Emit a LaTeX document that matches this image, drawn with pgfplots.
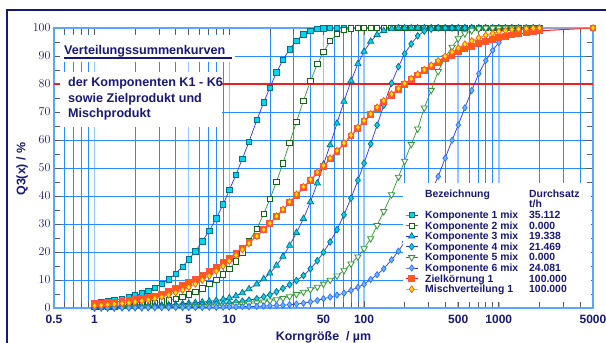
\documentclass[border=0pt]{standalone}
\usepackage{pgfplots}
\pgfplotsset{compat=1.18}
\usepackage{pgfplotstable}
\usepackage{fontspec}
\setmainfont{Liberation Sans}
\definecolor{navy}{RGB}{24,24,120}
\definecolor{gridblue}{RGB}{40,140,255}
\definecolor{gridlight}{RGB}{145,200,255}
\definecolor{axblue}{RGB}{90,165,255}
\definecolor{cyanfill}{RGB}{0,215,235}
\definecolor{tealedge}{RGB}{0,110,140}
\definecolor{lineblue}{RGB}{50,50,230}
\definecolor{darkgreen}{RGB}{20,100,20}
\definecolor{linegreen}{RGB}{50,150,50}
\definecolor{k6fill}{RGB}{110,185,255}
\definecolor{k6edge}{RGB}{40,110,255}
\definecolor{zfill}{RGB}{255,95,0}
\definecolor{zedge}{RGB}{255,80,80}
\definecolor{zline}{RGB}{255,30,20}
\definecolor{mfill}{RGB}{255,235,0}
\definecolor{medge}{RGB}{255,90,20}
\definecolor{mline}{RGB}{255,140,130}
\definecolor{tickgray}{RGB}{90,90,90}
\definecolor{redline}{RGB}{240,30,30}

\pgfplotstableread{
d K1 K2 K3 K4 K5 K6 Z M
1 1.7 0.3 0.3 0.2 0.1 0.1 1.5 0.8
1.12 2.1 0.4 0.3 0.2 0.1 0.1 1.7 1.0
1.25 2.5 0.5 0.4 0.2 0.1 0.1 1.9 1.2
1.4 2.9 0.6 0.4 0.3 0.1 0.1 2.1 1.4
1.6 3.3 0.7 0.5 0.3 0.2 0.1 2.4 1.6
1.8 3.9 0.9 0.5 0.3 0.2 0.1 2.7 1.9
2 4.5 1.1 0.6 0.4 0.2 0.1 3.0 2.2
2.24 5.2 1.3 0.7 0.4 0.2 0.1 3.3 2.5
2.5 6.2 1.6 0.8 0.5 0.3 0.1 3.7 2.9
2.8 7.3 1.9 0.9 0.5 0.3 0.2 4.3 3.4
3.15 8.7 2.3 1.0 0.6 0.3 0.2 5.0 4.0
3.55 10.3 2.7 1.1 0.7 0.3 0.2 5.9 4.7
4 12.3 3.2 1.3 0.8 0.4 0.2 6.9 5.5
4.5 14.8 3.9 1.5 0.9 0.4 0.2 7.9 6.4
5 17.4 4.8 1.7 1.0 0.5 0.2 9.0 7.4
5.6 20.2 5.8 1.9 1.1 0.5 0.2 10.2 8.6
6.3 23.8 7.0 2.1 1.2 0.6 0.2 11.6 10.0
7.1 27.6 8.5 2.4 1.3 0.7 0.3 13.0 11.5
8 32.0 10.0 2.7 1.5 0.8 0.3 14.5 13.2
9 37.0 12.0 3.1 1.6 0.9 0.3 16.2 15.0
10 42.1 14.0 3.6 1.8 1.0 0.4 17.8 16.8
11.2 47.6 16.6 4.3 2.1 1.2 0.4 19.6 18.8
12.5 53.3 19.9 5.4 2.4 1.4 0.5 21.4 20.9
14 59.4 23.8 6.8 2.8 1.6 0.5 23.4 23.1
16 67.1 28.3 8.5 3.3 1.9 0.6 25.7 25.6
18 73.4 33.6 10.4 4.0 2.2 0.7 28.0 28.0
20 78.7 38.9 12.4 4.7 2.6 0.8 30.3 30.3
22.4 84.1 45.1 15.2 5.8 3.0 0.9 32.7 32.8
25 88.6 51.7 18.4 7.0 3.5 1.0 35.0 35.2
28 92.4 59.0 22.3 8.3 4.1 1.2 37.7 37.9
31.5 95.5 66.5 26.9 9.8 4.9 1.4 40.3 40.6
35.5 97.8 74.0 31.9 11.6 5.7 1.7 43.0 43.3
40 98.9 81.0 37.9 14.0 6.6 2.2 45.6 45.9
45 99.6 87.1 44.6 16.9 7.5 2.7 48.2 48.5
50 99.9 91.4 51.3 19.9 8.6 3.3 50.6 50.9
56 100 95.3 58.2 23.6 10.0 3.9 53.2 53.5
63 100 97.9 66.0 28.0 11.5 4.6 55.9 56.2
71 100 99.3 73.8 33.3 13.4 5.3 58.6 58.9
80 100 99.8 81.1 39.2 15.8 6.3 61.4 61.7
90 100 100 87.2 45.6 18.3 7.4 64.2 64.5
100 100 100 91.6 51.7 21.2 8.5 66.6 66.9
112 100 100 95.2 58.6 24.8 10.2 69.0 69.3
125 100 100 97.6 65.3 29.5 11.9 71.3 71.7
140 100 100 99.0 72.4 34.5 14.0 73.6 74.0
160 100 100 99.7 80.3 40.5 17.2 76.0 76.4
180 100 100 100 86.2 46.8 20.3 78.0 78.4
200 100 100 100 90.8 52.5 23.6 79.8 80.2
224 100 100 100 94.3 58.5 27.4 81.6 81.9
250 100 100 100 97.2 64.0 31.6 83.2 83.5
280 100 100 100 98.9 71.5 36.4 84.8 85.1
315 100 100 100 99.6 77.8 41.5 86.3 86.7
355 100 100 100 100 84.5 47.0 87.7 88.3
400 100 100 100 100 89.5 53.5 89.0 89.9
450 100 100 100 100 93.2 59.9 90.3 91.4
500 100 100 100 100 96.2 65.4 91.4 92.8
560 100 100 100 100 98.0 71.5 92.5 94.2
630 100 100 100 100 99.1 77.7 93.5 95.4
710 100 100 100 100 99.7 83.7 94.5 96.5
800 100 100 100 100 100 88.4 95.3 97.4
900 100 100 100 100 100 92.0 96.0 98.1
1000 100 100 100 100 100 94.8 96.5 98.7
1120 100 100 100 100 100 96.9 97.0 99.1
1250 100 100 100 100 100 98.3 97.5 99.4
1400 100 100 100 100 100 99.3 97.9 99.6
1600 100 100 100 100 100 99.8 98.3 99.8
1800 100 100 100 100 100 100 98.7 99.9
2000 100 100 100 100 100 100 99.0 100
5000 100 100 100 100 100 100 100 100
}\data

\pgfplotsset{
  legend image code/.code={\draw[mark repeat=2,mark phase=2,#1] plot coordinates {(0pt,0pt) (6pt,0pt) (12pt,0pt)};},
}
\newcommand{\lbl}{\fontsize{12.4}{12.4}\selectfont\bfseries}
\newcommand{\boxfont}{\fontsize{12.6}{12.6}\selectfont\bfseries}
\newcommand{\entry}[2]{\hspace*{7pt}\makebox[104pt][l]{#1}\makebox[60pt][l]{#2}}

\begin{document}
\begin{tikzpicture}
\useasboundingbox (0pt,0pt) rectangle (606pt,343pt);
\fill[white] (0pt,0pt) rectangle (606pt,343pt);
\begin{axis}[
  at={(54pt,35pt)}, anchor=south west,
  scale only axis, width=539pt, height=280pt,
  xmode=log, xmin=0.5, xmax=5000, ymin=0, ymax=100,
  clip=false,
  xtick={0.5,1,5,10,50,100,500,1000,5000},
  xticklabels={0.5,1,5,10,50,100,500,1000,5000},
  minor xtick={0.6,0.7,0.8,0.9,2,3,4,6,7,8,9,20,30,40,60,70,80,90,200,300,400,600,700,800,900,2000,3000,4000},
  ytick={0,10,20,30,40,50,60,70,80,90,100},
  minor ytick={5,15,25,35,45,55,65,75,85,95},
  xmajorgrids, xminorgrids, ymajorgrids,
  major x grid style={gridlight, line width=1.5pt},
  minor x grid style={gridblue, line width=0.7pt},
  major y grid style={gridblue, line width=0.9pt},
  axis line style={axblue, line width=1.6pt},
  tick style={tickgray, line width=0.7pt},
  major tick length=7pt, minor tick length=6pt,
  tick align=inside,
  ticklabel style={font=\fontsize{12}{12}\selectfont\bfseries, text=navy},
  xticklabel style={yshift=-3.5pt},
  xlabel={Korngröße~ / µm},
  ylabel={Q3(x) / \%},
  every axis x label/.style={at={(rel axis cs:0.5,-0.1143)}, anchor=base, font=\lbl, text=navy},
  every axis y label/.style={at={(rel axis cs:-0.0529,0.496)}, rotate=90, anchor=base, font=\lbl, text=navy},
  legend cell align=left,
  legend style={at={(rel axis cs:0.6475,0.4464)}, anchor=north west, draw=none, fill=white,
    inner xsep=2pt, inner ysep=6.5pt, font=\fontsize{10.4}{10.4}\selectfont\bfseries, text=navy,
    nodes={inner sep=0pt, text height=7.6pt, text depth=3pt}},
  legend image post style={yshift=1.2pt},
]
\addplot[redline, line width=1.2pt, forget plot] coordinates {(0.5,80) (5000,80)};

\addlegendimage{legend image code/.code={}}
\addlegendentry{\entry{Bezeichnung}{Durchsatz}}
\addlegendimage{legend image code/.code={}}
\addlegendentry{\entry{}{t/h}}

\addplot[lineblue, line width=0.7pt, mark=square*, mark size=2.7pt,
  mark options={fill=cyanfill, draw=tealedge, line width=0.7pt},
  skip coords between index={67}{68}] table[x=d,y=K1]{\data};
\addlegendentry{\entry{Komponente 1 mix}{35.112}}

\addplot[linegreen, line width=0.7pt, mark=square*, mark size=2.7pt,
  mark options={fill=white, draw=darkgreen, line width=0.8pt},
  skip coords between index={67}{68}] table[x=d,y=K2]{\data};
\addlegendentry{\entry{Komponente 2 mix}{0.000}}

\addplot[lineblue, line width=0.7pt, mark=triangle*, mark size=3.6pt,
  mark options={fill=cyanfill, draw=tealedge, line width=0.7pt},
  skip coords between index={67}{68}] table[x=d,y=K3]{\data};
\addlegendentry{\entry{Komponente 3 mix}{19.338}}

\addplot[lineblue, line width=0.7pt, mark=diamond*, mark size=3.3pt,
  mark options={fill=cyanfill, draw=tealedge, line width=0.7pt},
  skip coords between index={67}{68}] table[x=d,y=K4]{\data};
\addlegendentry{\entry{Komponente 4 mix}{21.469}}

\addplot[linegreen, line width=0.7pt, mark=triangle*, mark size=3.6pt,
  mark options={fill=white, draw=linegreen, line width=0.8pt, rotate=180},
  skip coords between index={67}{68}] table[x=d,y=K5]{\data};
\addlegendentry{\entry{Komponente 5 mix}{0.000}}

\addplot[lineblue, line width=0.7pt, mark=diamond*, mark size=3.1pt,
  mark options={fill=k6fill, draw=k6edge, line width=0.7pt},
  skip coords between index={67}{68}] table[x=d,y=K6]{\data};
\addlegendentry{\entry{Komponente 6 mix}{24.081}}

\addplot[zline, line width=1pt, mark=square*, mark size=2.9pt,
  mark options={fill=zfill, draw=zedge, line width=1pt}] table[x=d,y=Z]{\data};
\addlegendentry{\entry{Zielkörnung 1}{100.000}}

\addplot[mline, line width=1pt, mark=diamond*, mark size=3.3pt,
  mark options={fill=mfill, draw=medge, line width=0.8pt}] table[x=d,y=M]{\data};
\addlegendentry{\entry{Mischverteilung 1}{100.000}}
\end{axis}

% text boxes
\fill[white] (60pt,281pt) rectangle (235pt,308pt);
\node[anchor=base west, inner sep=0pt, font=\boxfont, text=navy] at (64pt,288pt) {Verteilungssummenkurven};
\draw[navy, line width=1.2pt] (64pt,285pt) -- (232pt,285pt);
\fill[white] (60pt,216pt) rectangle (222pt,271pt);
\node[anchor=base west, inner sep=0pt, font=\boxfont, text=navy] at (68pt,256pt) {der Komponenten K1 - K6};
\node[anchor=base west, inner sep=0pt, font=\boxfont, text=navy] at (68pt,240.3pt) {sowie Zielprodukt und};
\node[anchor=base west, inner sep=0pt, font=\boxfont, text=navy] at (68pt,225.3pt) {Mischprodukt};

% frame
\draw[navy, line width=1.4pt] (7pt,0pt) -- (7pt,333pt) -- (606pt,333pt);
\end{tikzpicture}
\end{document}
